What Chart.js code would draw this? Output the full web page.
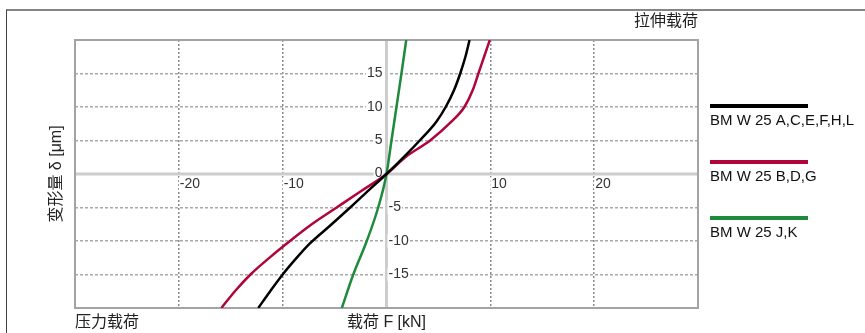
<!DOCTYPE html>
<html>
<head>
<meta charset="utf-8">
<script src="https://cdn.jsdelivr.net/npm/chart.js@4/dist/chart.umd.min.js"></script>
<style>
  body { margin: 0; background: #fff; }
  #wrap { position: relative; width: 865px; height: 333px; }
  #frame { position: absolute; left: 6px; top: 9px; right: 0; bottom: 0;
           border-top: 2px solid #858585; border-left: 1.5px solid #444; pointer-events: none; }
</style>
</head>
<body>
<div id="wrap">
  <canvas id="deformChart"></canvas>
  <div id="frame"></div>
</div>
<script>
// load F [kN] vs deformation [um]
const blackForce  = [-12.35, -11.2, -10, -8.7, -7.4, -5.5, -3.5, -1.7, 0, 1.8, 3.2, 4.8, 5.7, 6.5, 7.1, 7.6, 8.0];
const blackDeform = [-20, -17.5, -15, -12.6, -10.4, -7.8, -5, -2.4, 0, 2.75, 5, 7.8, 10, 12.5, 15, 17.5, 20];

const redForce  = [-15.9, -14.6, -13.1, -11.2, -9.3, -7.2, -4.8, -2.4, 0, 1.9, 4.2, 6.25, 7.5, 8.3, 8.85, 9.4, 9.95];
const redDeform = [-20, -17.5, -15, -12.4, -10, -7.5, -5, -2.5, 0, 2.6, 5, 7.8, 10, 12.5, 15, 17.5, 20];

const greenForce  = [-4.3, -3.2, -1.9, -0.8, 0, 0.48, 0.96, 1.44, 1.9];
const greenDeform = [-20, -15, -10, -5, 0, 5, 10, 15, 20];

const seriesLabels = ["BM W 25 A,C,E,F,H,L", "BM W 25 B,D,G", "BM W 25 J,K"];
const seriesColors = ["#000000", "#b0053a", "#1f8a3c"];

const xTickValues = [-20, -10, 10, 20];
const yTickPositive = [0, 5, 10, 15];
const yTickNegative = [-5, -10, -15];

const LATIN = '"Liberation Sans", Arial, sans-serif';
const CJK = '"Liberation Sans", "Noto Sans CJK SC", sans-serif';

function toPoints(xs, ys){
  return xs.map((v, i) => ({ x: v, y: ys[i] }));
}

function drawLabel(ctx, text, px, py, align){
  const w = ctx.measureText(text).width;
  const left = align === "left" ? px : px - w;
  ctx.fillStyle = "#fff";
  ctx.fillRect(left - 1, py - 7, w + 2, 14);
  ctx.fillStyle = "#333";
  ctx.textAlign = align;
  ctx.fillText(text, px, py);
}

// zero lines, plot border and the tick labels sitting on the axes
const axisPlugin = {
  id: "axisPlugin",
  beforeDatasetsDraw(chart){
    const { ctx, chartArea: a, scales: { x, y } } = chart;
    const x0 = x.getPixelForValue(0);
    const y0 = y.getPixelForValue(0);
    ctx.save();
    ctx.strokeStyle = "#cdcdcd";
    ctx.lineWidth = 3;
    ctx.beginPath();
    ctx.moveTo(a.left, y0); ctx.lineTo(a.right, y0);
    ctx.moveTo(x0, a.top); ctx.lineTo(x0, a.bottom);
    ctx.stroke();

    ctx.strokeStyle = "#a3a3a3";
    ctx.lineWidth = 2;
    ctx.strokeRect(a.left, a.top, a.right - a.left, a.bottom - a.top);

    ctx.font = "14px " + LATIN;
    ctx.textBaseline = "middle";
    xTickValues.forEach(v => {
      drawLabel(ctx, String(v), x.getPixelForValue(v) + 1, y0 + 10, "left");
    });
    yTickPositive.forEach(v => {
      drawLabel(ctx, String(v), x0 - 4, y.getPixelForValue(v) + (v === 0 ? -1 : 0), "right");
    });
    yTickNegative.forEach(v => {
      drawLabel(ctx, String(v), x0 + 2, y.getPixelForValue(v), "left");
    });
    ctx.restore();
  },
  afterDraw(chart){
    const { ctx, chartArea: a, scales: { x, y } } = chart;
    ctx.save();
    ctx.fillStyle = "#222";
    ctx.textBaseline = "middle";
    ctx.font = "16px " + CJK;
    ctx.textAlign = "right";
    ctx.fillText("拉伸载荷", a.right, 22);
    ctx.textAlign = "left";
    ctx.fillText("压力载荷", a.left, 323);
    ctx.textAlign = "center";
    ctx.fillText("载荷 F [kN]", x.getPixelForValue(0), 323);
    ctx.translate(57, (a.top + a.bottom) / 2);
    ctx.rotate(-Math.PI / 2);
    ctx.fillText("变形量 δ [μm]", 0, 0);
    ctx.restore();

    // legend: a thick line with the label under it
    ctx.save();
    ctx.font = "15px " + LATIN;
    ctx.textAlign = "left";
    ctx.textBaseline = "middle";
    chart.data.datasets.forEach((ds, i) => {
      const ly = 106 + i * 56;
      ctx.fillStyle = ds.borderColor;
      ctx.fillRect(710, ly - 2, 98, 4);
      ctx.fillStyle = "#111";
      ctx.fillText(ds.label, 710, ly + 15);
    });
    ctx.restore();
  }
};

function makeDataset(i, xs, ys){
  return {
    label: seriesLabels[i],
    data: toPoints(xs, ys),
    showLine: true,
    borderColor: seriesColors[i],
    borderWidth: 2.5,
    pointRadius: 0,
    cubicInterpolationMode: "monotone",
    fill: false
  };
}

const ctx = document.getElementById("deformChart").getContext("2d");
new Chart(ctx, {
  type: "scatter",
  data: {
    datasets: [
      makeDataset(0, blackForce, blackDeform),
      makeDataset(1, redForce, redDeform),
      makeDataset(2, greenForce, greenDeform)
    ]
  },
  options: {
    responsive: true,
    maintainAspectRatio: false,
    animation: false,
    layout: { padding: { left: 75, right: 167, top: 40, bottom: 25 } },
    plugins: { legend: { display: false }, tooltip: { enabled: false } },
    scales: {
      x: {
        type: "linear", min: -30, max: 30,
        ticks: { display: false, stepSize: 10 },
        grid: { color: "#8a8a8a", lineWidth: 1.5, drawTicks: false },
        border: { display: false, dash: [2, 2] }
      },
      y: {
        type: "linear", min: -20, max: 20,
        ticks: { display: false, stepSize: 5 },
        grid: { color: "#a8a8a8", lineWidth: 1.5, drawTicks: false },
        border: { display: false, dash: [3, 2] }
      }
    }
  },
  plugins: [axisPlugin]
});
</script>
</body>
</html>
